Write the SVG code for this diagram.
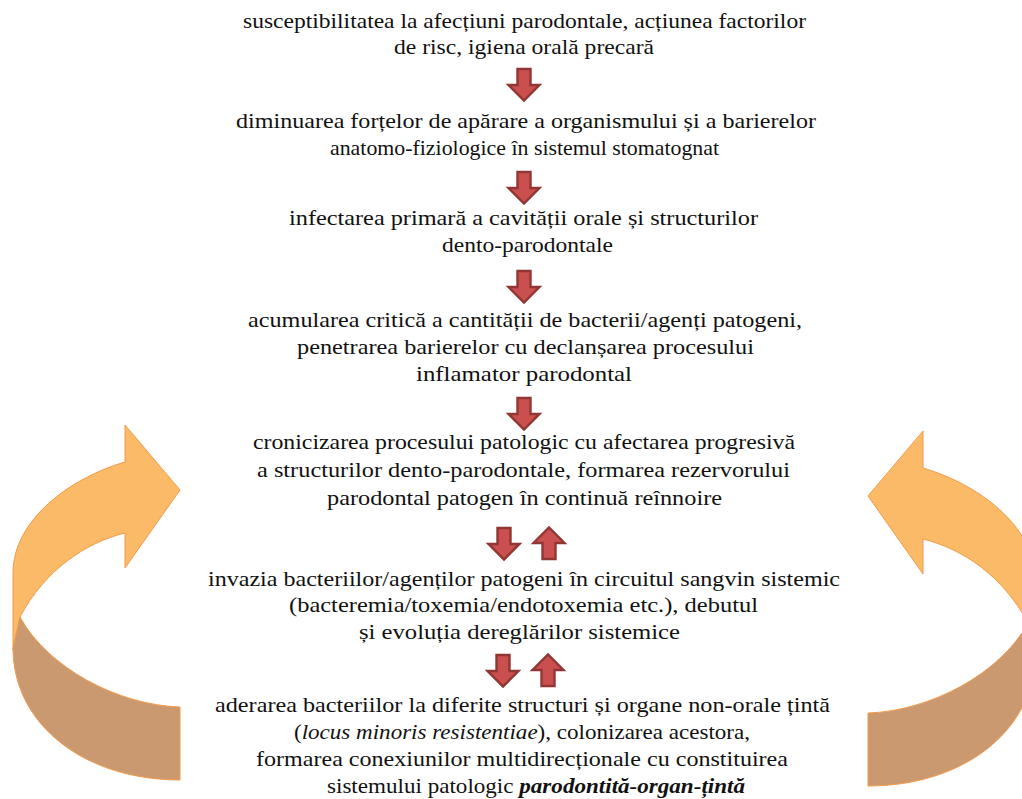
<svg xmlns="http://www.w3.org/2000/svg" xmlns:xlink="http://www.w3.org/1999/xlink" width="1022" height="799" viewBox="0 0 1022 799">
<style>
text{font-family:"Liberation Serif","Times New Roman",serif;font-size:22px;fill:#111111;text-anchor:middle}
.it{font-style:italic}
.bi{font-style:italic;font-weight:bold}
.ra{fill:#C9504E;stroke:#923634;stroke-width:2.4;stroke-linejoin:miter}
.light{fill:#FBBA67;stroke:#F59A4A;stroke-width:1}
.dark{fill:#CB996F;stroke:#F59A4A;stroke-width:1}
</style>
<defs>
<path id="down" class="ra" d="M-6.5,1 H6.5 V17 H15.5 L0,32.5 L-15.5,17 H-6.5 Z"/>
</defs>
<rect width="1022" height="799" fill="#ffffff"/>
<g id="cycle-arrows">
<g id="cycle-left">
<path class="light" d="M125,462 L125,425 L180,490 L125,568 L125,533 C85,543 45,570 20,617 L13,650 L13,573 C13,520 70,478 125,462 Z"/>
<path class="dark" d="M180,707 C118,705 48,668 20,617 L13,648 C13,725 85,780 180,780 Z"/>
</g>
<g id="cycle-right" transform="translate(1048,6) scale(-1,1)">
<path class="light" d="M125,462 L125,425 L180,490 L125,568 L125,533 C85,543 45,570 20,617 L13,650 L13,573 C13,520 70,478 125,462 Z"/>
<path class="dark" d="M180,707 C118,705 48,668 20,617 L13,648 C13,725 85,780 180,780 Z"/>
</g>
</g>
<g id="connectors">
<use xlink:href="#down" transform="translate(524,68)"/>
<use xlink:href="#down" transform="translate(524,171)"/>
<use xlink:href="#down" transform="translate(524,270)"/>
<use xlink:href="#down" transform="translate(524,397)"/>
<use xlink:href="#down" transform="translate(504,527)"/>
<use xlink:href="#down" transform="translate(549,560) rotate(180)"/>
<use xlink:href="#down" transform="translate(503,654)"/>
<use xlink:href="#down" transform="translate(548,687) rotate(180)"/>
</g>
<g id="node1">
<text x="524.5" y="28" textLength="563" lengthAdjust="spacingAndGlyphs">susceptibilitatea la afecțiuni parodontale, acțiunea factorilor</text>
<text x="524" y="54" textLength="260" lengthAdjust="spacingAndGlyphs">de risc, igiena orală precară</text>
</g>
<g id="node2">
<text x="526" y="128" textLength="580" lengthAdjust="spacingAndGlyphs">diminuarea forțelor de apărare a organismului și a barierelor</text>
<text x="524.5" y="155" textLength="389" lengthAdjust="spacingAndGlyphs">anatomo-fiziologice în sistemul stomatognat</text>
</g>
<g id="node3">
<text x="523.5" y="225" textLength="469" lengthAdjust="spacingAndGlyphs">infectarea primară a cavității orale și structurilor</text>
<text x="527.5" y="252" textLength="171" lengthAdjust="spacingAndGlyphs">dento-parodontale</text>
</g>
<g id="node4">
<text x="525" y="327" textLength="554" lengthAdjust="spacingAndGlyphs">acumularea critică a cantității de bacterii/agenți patogeni,</text>
<text x="525.5" y="354" textLength="457" lengthAdjust="spacingAndGlyphs">penetrarea barierelor cu declanșarea procesului</text>
<text x="524" y="381" textLength="216" lengthAdjust="spacingAndGlyphs">inflamator parodontal</text>
</g>
<g id="node5">
<text x="524" y="449" textLength="542" lengthAdjust="spacingAndGlyphs">cronicizarea procesului patologic cu afectarea progresivă</text>
<text x="523.5" y="477" textLength="533" lengthAdjust="spacingAndGlyphs">a structurilor dento-parodontale, formarea rezervorului</text>
<text x="524.5" y="505" textLength="395" lengthAdjust="spacingAndGlyphs">parodontal patogen în continuă reînnoire</text>
</g>
<g id="node6">
<text x="524" y="586" textLength="632" lengthAdjust="spacingAndGlyphs">invazia bacteriilor/agenților patogeni în circuitul sangvin sistemic</text>
<text x="523.5" y="612" textLength="469" lengthAdjust="spacingAndGlyphs">(bacteremia/toxemia/endotoxemia etc.), debutul</text>
<text x="519.5" y="639" textLength="321" lengthAdjust="spacingAndGlyphs">și evoluția dereglărilor sistemice</text>
</g>
<g id="node7">
<text x="522.5" y="712" textLength="615" lengthAdjust="spacingAndGlyphs">aderarea bacteriilor la diferite structuri și organe non-orale țintă</text>
<text x="522" y="739" textLength="456" lengthAdjust="spacingAndGlyphs">(<tspan class="it">locus minoris resistentiae</tspan>), colonizarea acestora,</text>
<text x="522" y="766" textLength="532" lengthAdjust="spacingAndGlyphs">formarea conexiunilor multidirecționale cu constituirea</text>
<text x="536" y="793" textLength="418" lengthAdjust="spacingAndGlyphs">sistemului patologic <tspan class="bi">parodontită-organ-țintă</tspan></text>
</g>
</svg>
